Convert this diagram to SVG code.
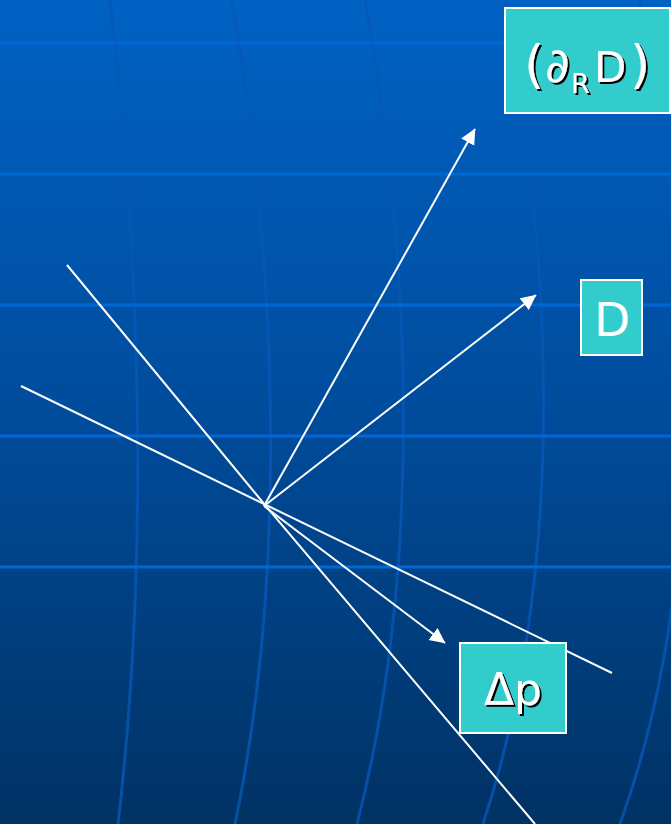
<svg xmlns="http://www.w3.org/2000/svg" width="671" height="824" viewBox="0 0 671 824">
<defs>
<linearGradient id="bg" x1="0" y1="0" x2="0" y2="1">
<stop offset="0" stop-color="#0062C4"/>
<stop offset="0.5" stop-color="#004C9C"/>
<stop offset="1" stop-color="#003264"/>
</linearGradient>
<marker id="ah" markerUnits="userSpaceOnUse" markerWidth="18" markerHeight="18" refX="15" refY="7.5" orient="auto">
<path d="M0,0 L15.5,7.5 L0,15 z" fill="#FFFFFF"/>
</marker>
<filter id="sh" x="-10%" y="-10%" width="130%" height="130%">
<feDropShadow dx="2" dy="2" stdDeviation="0" flood-color="#000000" flood-opacity="1"/>
</filter>
</defs>
<style>
.hl{stroke:#0068D4;stroke-width:3;fill:none}
.vl{stroke:#0658B8;stroke-width:3;fill:none;opacity:0.8}
.box{fill:#33CCCC;stroke:#FFFFFF;stroke-width:2}
.lbl{font-family:"DejaVu Sans","Noto Sans",sans-serif;fill:#FFFFFF}
.ln{stroke:#FFFFFF;stroke-width:2;fill:none}
.ar{stroke:#FFFFFF;stroke-width:2;fill:none;marker-end:url(#ah)}
</style>
<rect x="0" y="0" width="671" height="824" fill="url(#bg)"/>
<g id="background">
<path class="vl" d="M110,0 C140,250 150,550 118,824"/>
<path class="vl" d="M232,0 C275,250 290,560 235,824"/>
<path class="vl" d="M365,0 C410,250 425,560 357,824"/>
<path class="vl" d="M505,0 C550,250 570,560 483,824"/>
<path class="vl" d="M640,0 C690,250 715,560 620,824"/>
<line class="hl" x1="0" y1="43" x2="671" y2="43"/>
<line class="hl" x1="0" y1="174" x2="671" y2="174"/>
<line class="hl" x1="0" y1="305" x2="671" y2="305"/>
<line class="hl" x1="0" y1="436" x2="671" y2="436"/>
<line class="hl" x1="0" y1="567" x2="671" y2="567"/>
</g>
<g id="connectors">
<polyline class="ln" points="67,265 265,505 535,824"/>
<line class="ln" x1="21" y1="386" x2="612" y2="673"/>
<line class="ar" x1="264" y1="506" x2="475" y2="129"/>
<line class="ar" x1="264" y1="506" x2="536" y2="295"/>
<line class="ar" x1="264" y1="506" x2="445" y2="643"/>
</g>
<g id="node-dRD">
<rect class="box" x="505" y="8" width="165" height="105"/>
<g filter="url(#sh)" class="lbl">
<text x="524" y="82" font-size="52">(</text>
<text x="545" y="82" font-size="48">∂</text>
<text x="571" y="93" font-size="27">R</text>
<text x="594" y="82" font-size="42">D</text>
<text x="630" y="82" font-size="52">)</text>
</g>
</g>
<g id="node-D">
<rect class="box" x="581" y="280" width="61" height="75"/>
<text class="lbl" x="612" y="336" font-size="47" text-anchor="middle">D</text>
</g>
<g id="node-dp">
<rect class="box" x="460" y="643" width="106" height="90"/>
<text class="lbl" x="513" y="705" font-size="44" text-anchor="middle" filter="url(#sh)">Δp</text>
</g>
</svg>
